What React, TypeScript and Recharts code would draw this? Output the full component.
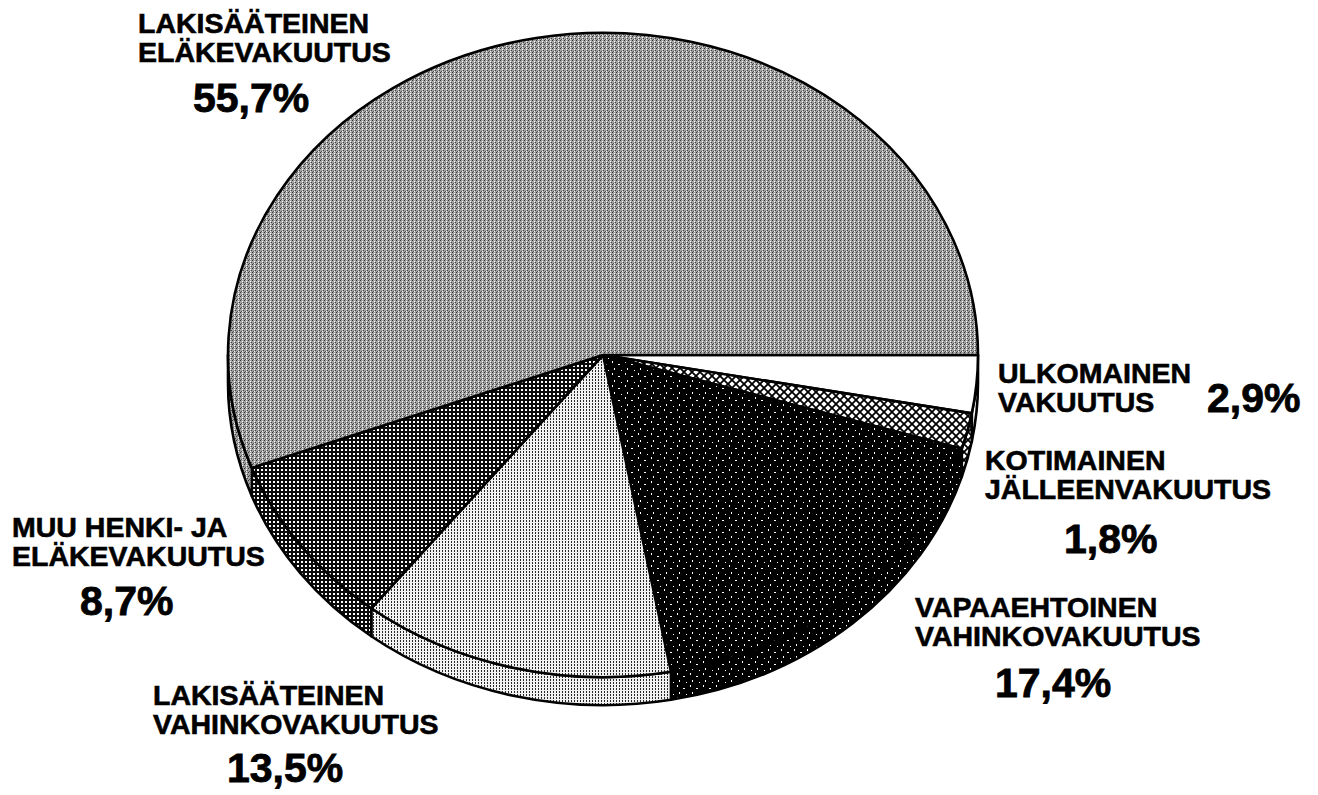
import React from 'react'
import { Pie, PieChart } from 'recharts'

// slices clockwise from 3 o'clock
const names = [
  'Ulkomainen vakuutus',
  'Kotimainen jälleenvakuutus',
  'Vapaaehtoinen vahinkovakuutus',
  'Lakisääteinen vahinkovakuutus',
  'Muu henki- ja eläkevakuutus',
  'Lakisääteinen eläkevakuutus'
]
const shares = [2.9, 1.8, 17.4, 13.5, 8.7, 55.7]
const labelLines = [
  ['ULKOMAINEN', 'VAKUUTUS'],
  ['KOTIMAINEN', 'JÄLLEENVAKUUTUS'],
  ['VAPAAEHTOINEN', 'VAHINKOVAKUUTUS'],
  ['LAKISÄÄTEINEN', 'VAHINKOVAKUUTUS'],
  ['MUU HENKI- JA', 'ELÄKEVAKUUTUS'],
  ['LAKISÄÄTEINEN', 'ELÄKEVAKUUTUS']
]
const shareLabels = ['2,9%', '1,8%', '17,4%', '13,5%', '8,7%', '55,7%']

const fills = [
  '#ffffff',
  'url(#pat-cross)',
  'url(#pat-dark)',
  'url(#pat-dots)',
  'url(#pat-grid)',
  'url(#pat-gray)'
]

// where each label block sits: text x, first baseline, number x, number baseline
const labelLayout = [
  { x: 998, y: 383, nx: 1207, ny: 412 },
  { x: 985, y: 470, nx: 1064, ny: 553 },
  { x: 915, y: 617, nx: 995, ny: 697 },
  { x: 153, y: 705, nx: 227, ny: 782 },
  { x: 12, y: 537, nx: 80, ny: 615 },
  { x: 138, y: 33, nx: 193, ny: 112 }
]

const data = names.map((name, i) => ({ name, value: shares[i], fill: fills[i] }))

const TILT = 0.859
const DEPTH = 28
const FONT = '"Liberation Sans", Arial, Helvetica, sans-serif'

function pt(cx: number, cy: number, r: number, a: number, dy = 0) {
  const rad = (a * Math.PI) / 180
  return `${cx + r * Math.cos(rad)},${cy - r * TILT * Math.sin(rad) + dy}`
}

function EllipseSector(props: any) {
  const { cx, cy, outerRadius: r, startAngle, endAngle, fill } = props
  const ry = r * TILT
  const large = Math.abs(startAngle - endAngle) > 180 ? 1 : 0
  const top = `M${cx},${cy} L${pt(cx, cy, r, startAngle)} A${r},${ry} 0 ${large} 1 ${pt(cx, cy, r, endAngle)} Z`

  // side wall for the part of the slice on the front half
  const a1 = Math.min(startAngle, 0)
  const a2 = Math.max(endAngle, -180)
  let side = null
  if (a1 > a2) {
    const d =
      `M${pt(cx, cy, r, a1)} A${r},${ry} 0 0 1 ${pt(cx, cy, r, a2)} ` +
      `L${pt(cx, cy, r, a2, DEPTH)} A${r},${ry} 0 0 0 ${pt(cx, cy, r, a1, DEPTH)} Z`
    side = <path d={d} fill={fill} stroke="#000" strokeWidth={2.6} strokeLinejoin="round" />
  }

  return (
    <g>
      {side}
      <path d={top} fill={fill} stroke="#000" strokeWidth={2.6} strokeLinejoin="round" />
    </g>
  )
}

function renderLabel(props: any) {
  const i = props.index
  const pos = labelLayout[i]
  return (
    <g key={`lbl-${i}`} fontFamily={FONT} fontWeight={700} fill="#000" stroke="#000">
      {labelLines[i].map((line, j) => (
        <text key={j} x={pos.x} y={pos.y + j * 29} fontSize={28.5} strokeWidth={0.6} textAnchor="start">
          {line}
        </text>
      ))}
      <text x={pos.nx} y={pos.ny} fontSize={41} strokeWidth={0.8} textAnchor="start">
        {shareLabels[i]}
      </text>
    </g>
  )
}

export default function App() {
  return (
    <div style={{ position: 'absolute', left: 0, top: 0, width: 1318, height: 795, background: '#fff' }}>
      <PieChart width={1318} height={795} margin={{ top: 0, right: 0, bottom: 0, left: 0 }}>
        <defs>
          <pattern id="pat-gray" width="4" height="4" patternUnits="userSpaceOnUse">
            <rect width="4" height="4" fill="#a2a2a2" />
            <rect x="0" y="0" width="1" height="1" fill="#333" />
            <rect x="2" y="1" width="1" height="1" fill="#ffffff" />
            <rect x="3" y="2" width="1" height="1" fill="#444" />
            <rect x="1" y="3" width="1" height="1" fill="#555" />
            <rect x="2" y="3" width="1" height="1" fill="#eeeeee" />
          </pattern>
          <pattern id="pat-grid" width="4" height="4" patternUnits="userSpaceOnUse">
            <rect width="4" height="4" fill="#0a0a0a" />
            <rect x="1" y="1" width="2" height="2" fill="#fff" />
          </pattern>
          <pattern id="pat-dots" width="3" height="3" patternUnits="userSpaceOnUse">
            <rect width="3" height="3" fill="#f2f2f2" />
            <rect x="1" y="1" width="1" height="2" fill="#2a2a2a" />
          </pattern>
          <pattern id="pat-dark" width="13" height="12" patternUnits="userSpaceOnUse">
            <rect width="13" height="12" fill="#000" />
            <rect x="1" y="1" width="1" height="2" fill="#fff" />
            <rect x="7" y="4" width="2" height="1" fill="#fff" />
            <rect x="3" y="8" width="1" height="2" fill="#fff" />
            <rect x="10" y="10" width="1" height="1" fill="#fff" />
          </pattern>
          <pattern id="pat-cross" width="8" height="8" patternUnits="userSpaceOnUse">
            <rect width="8" height="8" fill="#fff" />
            <path d="M0,0 L8,8 M8,0 L0,8" stroke="#000" strokeWidth={1.8} />
          </pattern>
        </defs>
        <Pie
          data={data}
          dataKey="value"
          nameKey="name"
          cx={603}
          cy={355}
          outerRadius={375}
          startAngle={0}
          endAngle={-360}
          stroke="none"
          shape={EllipseSector}
          label={renderLabel}
          labelLine={false}
          isAnimationActive={false}
        />
      </PieChart>
    </div>
  )
}
